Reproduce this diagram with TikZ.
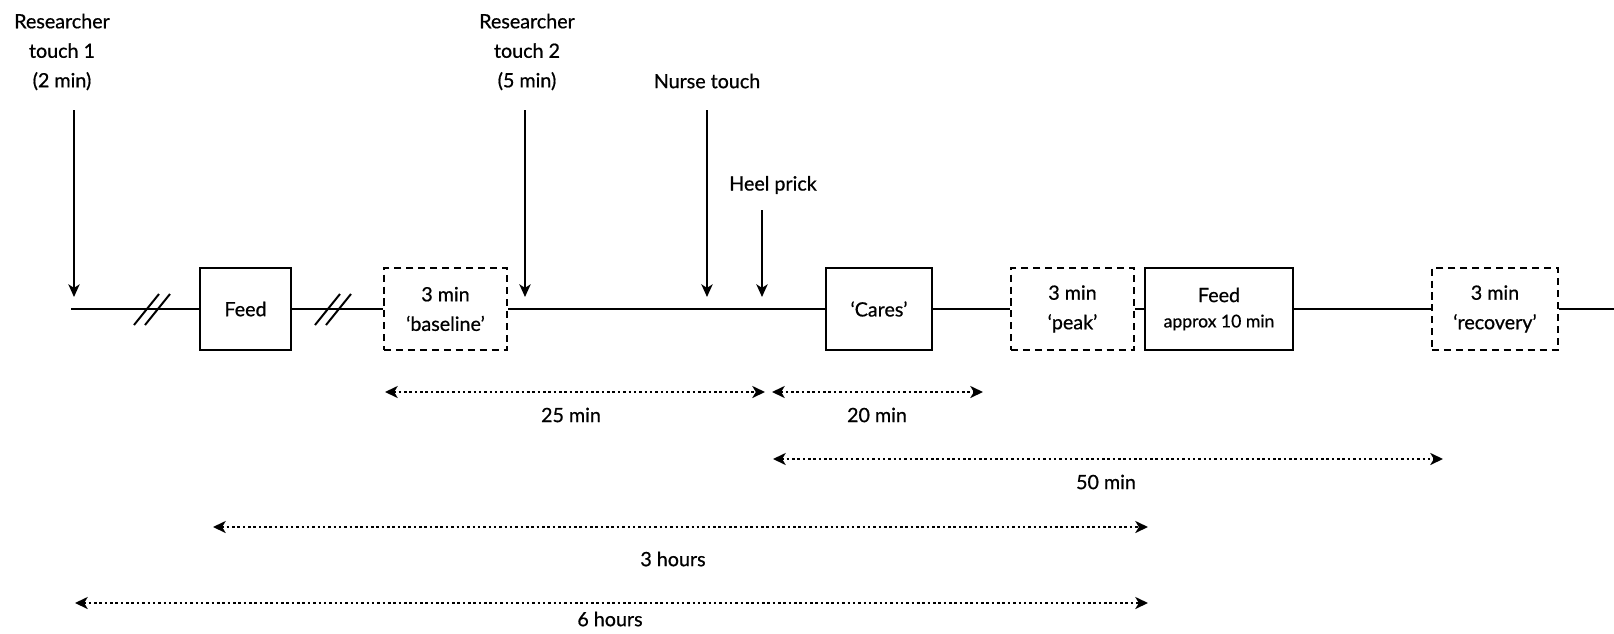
\documentclass[tikz,border=0pt]{standalone}
\usepackage{fontspec}
\setmainfont{Lato}[FakeBold=0.7]
\usetikzlibrary{arrows.meta,positioning}

\begin{document}
\begin{tikzpicture}[x=0.025cm,y=-0.025cm,% one unit is one pixel of the reference
        font=\fontsize{14}{21}\selectfont,
        phase/.style={draw,line width=1.6pt,minimum height=2.05cm,inner sep=0pt,align=center},
        window/.style={phase,dash pattern=on 5pt off 3.5pt},
        marker/.style={-{Stealth[length=9pt,width=8pt,inset=2.5pt]},line width=1.4pt},
        span/.style={{Stealth[length=9pt,width=8.5pt,inset=2.5pt]}-{Stealth[length=9pt,width=8.5pt,inset=2.5pt]},
                line width=1.8pt,dash pattern=on 1.8pt off 2pt}]
\useasboundingbox (0,0) rectangle (1614,633);

% the time line with its boxes
\coordinate (start) at (71,309);
\node[phase,minimum width=2.275cm] (feedA) at (245.5,309) {Feed};
\node[window,minimum width=3.075cm] (base) at (445.5,309) {3 min\\‘baseline’};
\node[phase,minimum width=2.65cm] (cares) at (879,309) {‘Cares’};
\node[window,minimum width=3.075cm] (peak) at (1072.5,309) {3 min\\‘peak’};
\node[phase,minimum width=3.7cm] (feedB) at (1219,309) {Feed\\[-3pt]{\fontsize{12.5}{14}\selectfont approx 10 min}};
\node[window,minimum width=3.15cm] (recov) at (1495,309) {3 min\\‘recovery’};
\coordinate (end) at (1614,309);
\draw[line width=1.5pt] (start) -- (feedA) -- (base) -- (cares) -- (peak) -- (feedB) -- (recov) -- (end);

\foreach \x in {152,333}{ % breaks in the time line
\draw[line width=1.4pt] (\x-18,325) -- (\x+7,294);
\draw[line width=1.4pt] (\x-7,325) -- (\x+18,294);
}

% events above the line
\node[align=center] (touchA) at (62,52) {Researcher\\touch 1\\(2 min)};
\node[align=center] (touchB) at (527,52) {Researcher\\touch 2\\(5 min)};
\node (nurse) at (707,81) {Nurse touch};
\node (heel) at (773,185) {Heel prick};
\foreach \n/\x/\y in {touchA/74/110,touchB/525/110,nurse/707/110,heel/762/210}{
\coordinate (\n-top) at (\x,\y);
\coordinate (\n-tip) at (\x,297);
\draw[marker] (\n-top) -- (\n-tip);
}

% durations below the line
\foreach[count=\i] \a/\b/\y/\lab/\lx/\ly in {385/765/392/25 min/571/415,
        772/983/392/20 min/877/415,773/1443/459/50 min/1106/482,
        213/1148/527/3 hours/673/559,75/1148/603/6 hours/610/619}{
\coordinate (span\i-l) at (\a,\y);
\coordinate (span\i-r) at (\b,\y);
\draw[span] (span\i-l) -- (span\i-r);
\node (span\i-lab) at (\lx,\ly) {\lab};
}
\end{tikzpicture}
\end{document}
